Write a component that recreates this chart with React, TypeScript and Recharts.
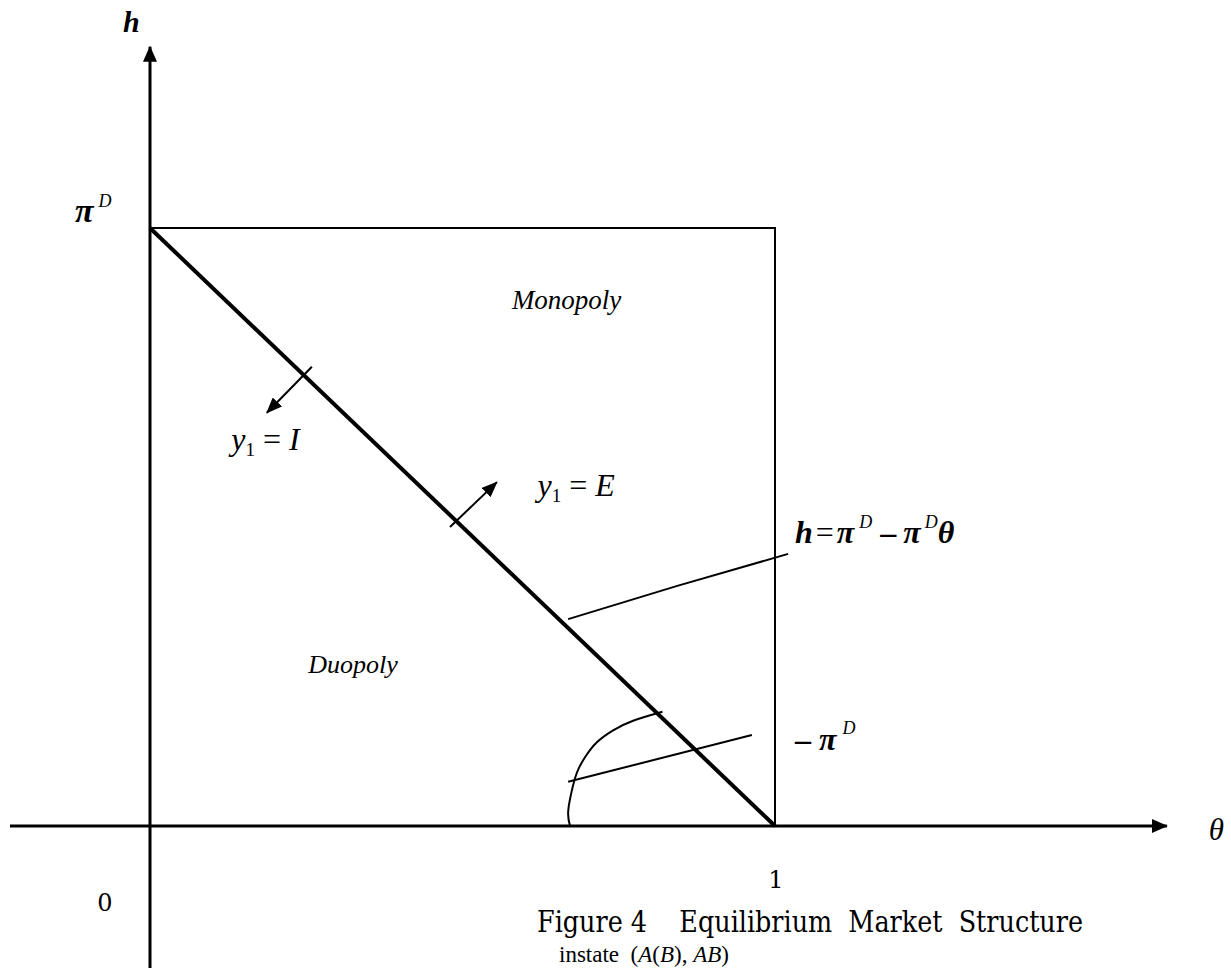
import { LineChart, Line, XAxis, YAxis, ReferenceDot } from 'recharts'

// theta along x, h along y (pi^D normalised to 1)
const X_DOMAIN = [-0.24, 1.7296]
const Y_DOMAIN = [-0.2375, 1.3813]

const AXIS_THETA = [{ x: -0.224, y: 0 }, { x: 1.627, y: 0 }]
const AXIS_H = [{ x: 0, y: -0.2375 }, { x: 0, y: 1.303 }]
const BOX = [{ x: 0, y: 1 }, { x: 1, y: 1 }, { x: 1, y: 0 }]
const FRONTIER = [{ x: 0, y: 1 }, { x: 1, y: 0 }]
const ARROW_I = [{ x: 0.259, y: 0.768 }, { x: 0.187, y: 0.691 }]
const ARROW_E = [{ x: 0.48, y: 0.5 }, { x: 0.555, y: 0.575 }]
const POINTER_EQ = [{ x: 0.669, y: 0.346 }, { x: 0.845, y: 0.402 }, { x: 1.021, y: 0.455 }]
const POINTER_PI = [{ x: 0.669, y: 0.074 }, { x: 0.963, y: 0.152 }]
const CURVE = [
  { x: 0.672, y: 0 },
  { x: 0.669, y: 0.022 },
  { x: 0.674, y: 0.055 },
  { x: 0.683, y: 0.089 },
  { x: 0.696, y: 0.115 },
  { x: 0.715, y: 0.14 },
  { x: 0.741, y: 0.16 },
  { x: 0.773, y: 0.176 },
  { x: 0.82, y: 0.191 },
]

const MATH = 'Liberation Serif, Times New Roman, serif'
const BOOK = 'DejaVu Serif, serif'

function note(x: number, y: number, key: string, render: (cx: number, cy: number) => any) {
  return (
    <ReferenceDot
      key={key}
      x={x}
      y={y}
      r={0}
      isFront
      shape={(p: any) => render(p.cx, p.cy)}
    />
  )
}

export default function App() {
  const seg = (data: any[], width: number, marker?: string, type: any = 'linear') => (
    <Line
      data={data}
      dataKey="y"
      type={type}
      stroke="#000"
      strokeWidth={width}
      dot={false}
      activeDot={false}
      isAnimationActive={false}
      markerEnd={marker ? `url(#${marker})` : undefined}
    />
  )

  return (
    <div style={{ position: 'absolute', left: 0, top: 0, width: 1231, height: 968, background: '#fff', overflow: 'hidden' }}>
      <svg width={0} height={0} style={{ position: 'absolute' }}>
        <defs>
          <marker id="arrAxis" markerUnits="userSpaceOnUse" markerWidth={16} markerHeight={14} viewBox="0 0 16 14" refX={15} refY={7} orient="auto">
            <path d="M0,0 L16,7 L0,14 Z" fill="#000" />
          </marker>
          <marker id="arrSmall" markerUnits="userSpaceOnUse" markerWidth={16} markerHeight={13} viewBox="0 0 16 13" refX={15} refY={6.5} orient="auto">
            <path d="M0,0 L16,6.5 L0,13 Z" fill="#000" />
          </marker>
        </defs>
      </svg>
      <LineChart width={1231} height={968} margin={{ top: 0, right: 0, bottom: 0, left: 0 }}>
        <XAxis type="number" dataKey="x" domain={X_DOMAIN} hide allowDataOverflow />
        <YAxis type="number" dataKey="y" domain={Y_DOMAIN} hide allowDataOverflow />
        {seg(BOX, 2)}
        {seg(AXIS_THETA, 3, 'arrAxis')}
        {seg(AXIS_H, 3, 'arrAxis')}
        {seg(FRONTIER, 4)}
        {seg(ARROW_I, 2, 'arrSmall')}
        {seg(ARROW_E, 2, 'arrSmall')}
        {seg(POINTER_EQ, 2, undefined, 'natural')}
        {seg(POINTER_PI, 2)}
        {seg(CURVE, 2, undefined, 'natural')}

        {note(-0.0432, 1.328, 'h', (cx, cy) => (
          <text x={cx} y={cy} fontFamily={MATH} fontStyle="italic" fontWeight="bold" fontSize={30}>h</text>
        ))}
        {note(-0.12, 1.01, 'piD', (cx, cy) => (
          <text x={cx} y={cy} fontFamily={MATH} fontStyle="italic" fontWeight="bold" fontSize={34}>
            π<tspan dx={5} dy={-15} fontSize={18} fontWeight="normal">D</tspan>
          </text>
        ))}
        {note(0.579, 0.865, 'mono', (cx, cy) => (
          <text x={cx} y={cy} fontFamily={MATH} fontStyle="italic" fontSize={27}>Monopoly</text>
        ))}
        {note(0.253, 0.255, 'duo', (cx, cy) => (
          <text x={cx} y={cy} fontFamily={MATH} fontStyle="italic" fontSize={26}>Duopoly</text>
        ))}
        {note(0.13, 0.629, 'yI', (cx, cy) => (
          <text x={cx} y={cy} fontFamily={MATH} fontSize={32} style={{ whiteSpace: 'pre' }}>
            <tspan fontStyle="italic">y</tspan>
            <tspan fontSize={19} dy={6}>1</tspan>
            <tspan dy={-6}> = </tspan>
            <tspan fontStyle="italic">I</tspan>
          </text>
        ))}
        {note(0.62, 0.552, 'yE', (cx, cy) => (
          <text x={cx} y={cy} fontFamily={MATH} fontSize={32} style={{ whiteSpace: 'pre' }}>
            <tspan fontStyle="italic">y</tspan>
            <tspan fontSize={19} dy={6}>1</tspan>
            <tspan dy={-6}> = </tspan>
            <tspan fontStyle="italic">E</tspan>
          </text>
        ))}
        {note(1.032, 0.473, 'eq', (cx, cy) => (
          <text x={cx} y={cy} fontFamily={MATH} fontSize={32} fontStyle="italic" fontWeight="bold" style={{ whiteSpace: 'pre' }}>
            <tspan>h</tspan>
            <tspan fontWeight="normal" fontStyle="normal" dx={3}>=</tspan>
            <tspan dx={3}>π</tspan>
            <tspan fontSize={18} fontWeight="normal" dx={5} dy={-15}>D</tspan>
            <tspan dy={15} dx={8} fontStyle="normal">–</tspan>
            <tspan dx={7}>π</tspan>
            <tspan fontSize={18} fontWeight="normal" dx={4} dy={-15}>D</tspan>
            <tspan dy={15}>θ</tspan>
          </text>
        ))}
        {note(1.032, 0.127, 'negpi', (cx, cy) => (
          <text x={cx} y={cy} fontFamily={MATH} fontSize={32} fontStyle="italic" fontWeight="bold" style={{ whiteSpace: 'pre' }}>
            <tspan fontStyle="normal">– </tspan>
            <tspan>π</tspan>
            <tspan fontSize={18} fontWeight="normal" dx={6} dy={-16}>D</tspan>
          </text>
        ))}
        {note(1.694, -0.0234, 'theta', (cx, cy) => (
          <text x={cx} y={cy} fontFamily={MATH} fontStyle="italic" fontSize={31}>θ</text>
        ))}
        {note(-0.072, -0.1421, 'zero', (cx, cy) => (
          <text x={cx} y={cy} fontFamily={BOOK} fontSize={24} textAnchor="middle">0</text>
        ))}
        {note(1.0016, -0.1037, 'one', (cx, cy) => (
          <text x={cx} y={cy} fontFamily={BOOK} fontSize={24} textAnchor="middle">1</text>
        ))}
        {note(0.6192, -0.1773, 'caption', (cx, cy) => (
          <text x={cx} y={cy} fontFamily={BOOK} fontSize={29} textLength={546} lengthAdjust="spacingAndGlyphs" style={{ whiteSpace: 'pre' }}>
            Figure 4    Equilibrium  Market  Structure
          </text>
        ))}
        {note(0.6544, -0.2275, 'instate', (cx, cy) => (
          <text x={cx} y={cy} fontFamily={MATH} fontSize={23} style={{ whiteSpace: 'pre' }}>
            instate  (<tspan fontStyle="italic">A</tspan>(<tspan fontStyle="italic">B</tspan>), <tspan fontStyle="italic">AB</tspan>)
          </text>
        ))}
      </LineChart>
    </div>
  )
}
